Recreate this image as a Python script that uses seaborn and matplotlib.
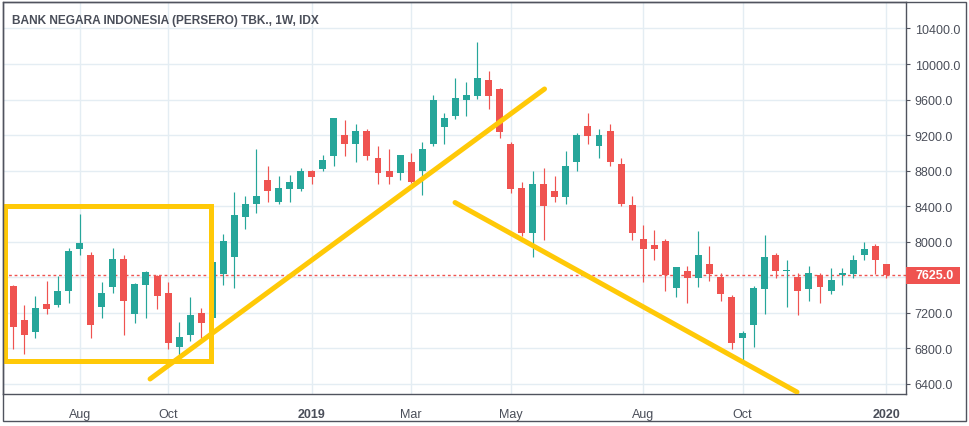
import matplotlib
matplotlib.use("Agg")
import matplotlib.pyplot as plt
import matplotlib.transforms as mtransforms
from matplotlib.patches import Rectangle
import seaborn as sns
import numpy as np
import pandas as pd

# ---------------- data ----------------
title = "BANK NEGARA INDONESIA (PERSERO) TBK., 1W, IDX"

opens = [7800, 7505, 7120, 6985, 7300, 7290, 7440, 7915, 7855, 7270,
         7495, 7800, 7190, 7515, 7610, 7425, 6815, 6945, 7200, 7145,
         7640, 7825, 8275, 8425, 8700, 8445, 8590, 8590, 8800, 8815,
         8970, 9205, 9095, 9250, 8945, 8800, 8770, 8900, 8795, 9095,
         9295, 9420, 9590, 9645, 9820, 9720, 9105, 8600, 8095, 8655,
         8575, 8500, 8895, 9305, 9075, 9250, 8880, 8410, 8030, 7965,
         8010, 7480, 7670, 7595, 7750, 7605, 7380, 6920, 7065, 7470,
         7850, 7665, 7605, 7470, 7625, 7440, 7620, 7640, 7845, 7955,
         7750]
highs = [7820, 7510, 7285, 7385, 7555, 7610, 7925, 8310, 7880, 7550,
         7925, 7855, 7530, 7675, 7625, 7550, 7100, 7380, 7255, 7800,
         8085, 8555, 8510, 9045, 8855, 8735, 8755, 8825, 8805, 8980,
         9395, 9370, 9325, 9270, 9080, 9045, 8980, 9000, 9125, 9650,
         9450, 9845, 9800, 10245, 9920, 9725, 9125, 8675, 8800, 8825,
         8735, 9025, 9225, 9450, 9270, 9325, 8945, 8510, 8185, 8130,
         8030, 7715, 7730, 8120, 7955, 7650, 7400, 6995, 7500, 8075,
         7875, 7795, 7650, 7730, 7650, 7705, 7705, 7850, 8000, 7975,
         7750]
lows = [7380, 6790, 6735, 6915, 7190, 7270, 7315, 7850, 6915, 7145,
        7420, 6945, 7085, 7145, 7245, 6790, 6715, 6885, 6915, 7120,
        7515, 7480, 8140, 8320, 8445, 8425, 8445, 8570, 8645, 8795,
        8850, 8970, 8895, 8915, 8645, 8645, 8690, 8660, 8525, 9075,
        9095, 9385, 9420, 9610, 9490, 9165, 8545, 8065, 7830, 8020,
        8445, 8425, 8795, 9095, 8940, 8850, 8400, 8020, 7550, 7795,
        7445, 7380, 7315, 7495, 7560, 7335, 6790, 6645, 6820, 7190,
        7590, 7270, 7170, 7335, 7315, 7415, 7515, 7595, 7790, 7640,
        7595]
closes = [7400, 7045, 6945, 7255, 7245, 7450, 7900, 7980, 7065, 7425,
          7800, 7335, 7525, 7655, 7390, 6860, 6930, 7175, 7085, 7775,
          8005, 8305, 8430, 8510, 8570, 8600, 8675, 8800, 8725, 8925,
          9395, 9095, 9250, 8970, 8770, 8725, 8980, 8670, 9045, 9595,
          9395, 9620, 9650, 9845, 9645, 9240, 8590, 8095, 8655, 8400,
          8500, 8855, 9205, 9195, 9205, 8895, 8425, 8095, 7920, 7920,
          7625, 7715, 7590, 7850, 7640, 7415, 6865, 6975, 7480, 7830,
          7665, 7675, 7440, 7650, 7495, 7570, 7650, 7795, 7920, 7790,
          7625]

x_tick_bars = [7, 15, 28, 37, 46, 58, 67, 80]
x_tick_labels = ["Aug", "Oct", "2019", "Mar", "May", "Aug", "Oct", "2020"]
y_ticks = [6400, 6800, 7200, 7600, 8000, 8400, 8800, 9200, 9600, 10000, 10400]
last_price = 7625.0

# drawn annotations (bar index, price)
box_x = [0.2, 18.84]
box_y = [6655, 8400]
up_line_x = [13.37, 49.07]
up_line_y = [6455, 9719]
down_line_x = [40.97, 71.92]
down_line_y = [8441, 6308]

# ---------------- style ----------------
GREEN = "#26a69a"
RED = "#ef5350"
YELLOW = "#ffc907"
GRID = "#e4edf3"
AXC = "#50535e"
TXT = "#4a4e59"

sns.set_theme(style="white")
plt.rcParams["font.family"] = ["Liberation Sans", "DejaVu Sans"]

W, H = 970, 427
fig = plt.figure(figsize=(W / 100, H / 100), dpi=100)
ax = fig.add_axes([3 / W, (H - 395) / H, (906.5 - 3) / W, (395 - 3) / H])

df = pd.DataFrame({"open": opens, "high": highs, "low": lows, "close": closes})
df["bar"] = np.arange(len(df))
df["rising"] = df["close"] >= df["open"]
colors = np.where(df["rising"], GREEN, RED)

ax.vlines(df["bar"], df["low"], df["high"], colors=colors, linewidth=0.85, zorder=3)
bottoms = np.minimum(df["open"], df["close"])
heights = np.maximum(np.abs(df["close"] - df["open"]), 12)
ax.bar(df["bar"], heights, bottom=bottoms, width=0.63, color=colors,
       linewidth=0, zorder=4)

# last price line
ax.axhline(last_price, color=RED, linewidth=1.0, linestyle=(0, (2, 2)), zorder=2)

# annotations
ax.add_patch(Rectangle((box_x[0], box_y[0]), box_x[1] - box_x[0], box_y[1] - box_y[0],
                       fill=False, edgecolor=YELLOW, linewidth=3.6, zorder=6,
                       joinstyle="miter", clip_on=False))
sns.lineplot(x=up_line_x, y=up_line_y, ax=ax, color=YELLOW, linewidth=3.6,
             sort=False, solid_capstyle="round", zorder=6)
sns.lineplot(x=down_line_x, y=down_line_y, ax=ax, color=YELLOW, linewidth=3.6,
             sort=False, solid_capstyle="round", zorder=6)

ax.set_xlim(0.06, 81.83)
ax.set_ylim(6286, 10698)

ax.set_yticks(y_ticks)
# the 7600 label is covered by the last-price tag in the reference
ax.set_yticklabels(["" if abs(v - last_price) < 100 else f"{v:.1f}" for v in y_ticks])
ax.yaxis.tick_right()
ax.set_xticks(x_tick_bars)
ax.set_xticklabels(x_tick_labels)
ax.grid(True, color=GRID, linewidth=1.0, zorder=0)
ax.set_axisbelow(True)
ax.tick_params(axis="y", direction="out", length=3, width=0.8, color=AXC,
               labelsize=9.0, labelcolor=TXT, pad=3)
ax.tick_params(axis="x", direction="out", length=3, width=0.8, color=AXC,
               labelsize=9.0, labelcolor=TXT, pad=7)
for lbl in ax.get_xticklabels():
    if lbl.get_text() in ("2019", "2020"):
        lbl.set_fontweight("bold")
for s in ax.spines.values():
    s.set_color(AXC)
    s.set_linewidth(1.0)
    s.set_visible(True)
ax.set_xlabel("")
ax.set_ylabel("")
if ax.get_legend() is not None:
    ax.get_legend().remove()

# last price label on the right axis
trans = mtransforms.blended_transform_factory(ax.transAxes, ax.transData)
ppu = (395 - 3) / (10698 - 6286)
half = 8.5 / ppu
ax.add_patch(Rectangle((1.0, last_price - half), 53.5 / (906.5 - 3), 2 * half,
                       transform=trans, facecolor=RED, edgecolor="none",
                       clip_on=False, zorder=7))
ax.text(1.0 + 9 / (906.5 - 3), last_price, f"{last_price:.1f}", transform=trans,
        ha="left", va="center", color="white", fontsize=9.0, fontweight="bold",
        zorder=8, clip_on=False)

# outer frame
fig.add_artist(Rectangle((3 / W, (H - 422) / H), (966 - 3) / W, (422 - 3) / H,
                         transform=fig.transFigure, fill=False, edgecolor=AXC,
                         linewidth=1.0))

fig.text(12 / W, 1 - 21 / H, title, ha="left", va="center", fontsize=8.6,
         fontweight="bold", color=TXT)

fig.savefig("out.png", dpi=100)
